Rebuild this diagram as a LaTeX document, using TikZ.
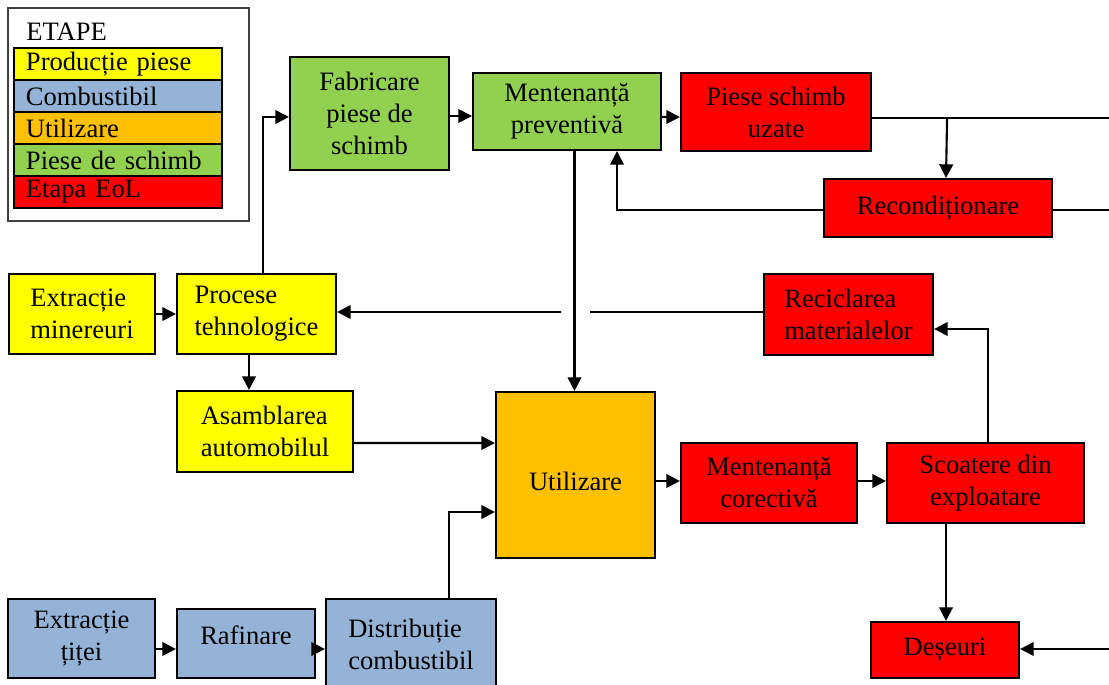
\documentclass[tikz,border=0pt]{standalone}
\usepackage{fontspec}
\setmainfont{Liberation Serif}
\usepackage{xcolor}
\usetikzlibrary{arrows.meta,calc}
\definecolor{galben}{HTML}{FFFF00}
\definecolor{albastru}{HTML}{95B3D7}
\definecolor{portocaliu}{HTML}{FFC000}
\definecolor{verde}{HTML}{92D050}
\definecolor{rosu}{HTML}{FF0000}

\begin{document}
\begin{tikzpicture}[x=0.025cm,y=-0.025cm]
\tikzstyle{every node}+=[inner sep=0pt,font=\fontsize{18.9}{22.8}\selectfont]
\tikzstyle{bloc}=[draw=black,line width=1.5pt,align=center]
\tikzstyle{leg}=[draw=black,line width=1.5pt,minimum height=0.8cm,text width=4.6cm,inner xsep=0.3cm,align=left]
\tikzstyle{arr}=[line width=1.5pt,-{Triangle[length=0.34cm,width=0.34cm]}]
\tikzstyle{lin}=[line width=1.5pt]
\useasboundingbox (0,0) rectangle (1109,684);
\clip (0,0) rectangle (1109,684);
\node[draw=black!75,line width=1.2pt,minimum width=6.025cm,minimum height=5.325cm] (legenda) at (128.5,114.5) {};
\node[anchor=base west] (etape) at (26,40) {ETAPE};
\node[leg,fill=galben] (l1) at (118,64) {Producție piese};
\node[leg,fill=albastru] (l2) at (118,96) {Combustibil};
\node[leg,fill=portocaliu] (l3) at (118,128) {Utilizare};
\node[leg,fill=verde] (l4) at (118,160) {Piese de schimb};
\node[leg,fill=rosu] (l5) at (118,192) {Etapa EoL};
\node[bloc,fill=verde,minimum width=3.975cm,minimum height=2.825cm] (fab) at (369.5,113.5) {Fabricare\\piese de\\schimb};
\node[bloc,fill=verde,minimum width=4.7cm,minimum height=1.925cm] (mprev) at (567,111.5) {Mentenanță\\preventivă};
\node[bloc,fill=rosu,minimum width=4.75cm,minimum height=1.95cm] (uzate) at (776,112) {Piese schimb\\uzate};
\node[bloc,fill=rosu,minimum width=5.7cm,minimum height=1.45cm] (recond) at (938,208) {Recondiționare};
\node[bloc,fill=galben,minimum width=3.65cm,minimum height=2cm,align=left] (extmin) at (82,314) {Extracție\\minereuri};
\node[bloc,fill=galben,minimum width=3.975cm,minimum height=2cm,align=left] (proc) at (256.5,314) {Procese\\tehnologice};
\node[bloc,fill=rosu,minimum width=4.225cm,minimum height=2.025cm,align=left] (recic) at (848.5,314.5) {Reciclarea\\materialelor};
\node[bloc,fill=galben,minimum width=4.4cm,minimum height=2.025cm,align=left] (asam) at (265,431.5) {Asamblarea\\automobilul};
\node[bloc,fill=portocaliu,minimum width=3.975cm,minimum height=4.15cm,text height=0.76cm,text depth=0cm] (util) at (575.5,475) {Utilizare};
\node[bloc,fill=rosu,minimum width=4.4cm,minimum height=2cm] (mcor) at (769,483) {Mentenanță\\corectivă};
\node[bloc,fill=rosu,minimum width=4.925cm,minimum height=2cm] (scoat) at (985.5,483) {Scoatere din\\exploatare};
\node[bloc,fill=rosu,minimum width=3.7cm,minimum height=1.4cm] (deseuri) at (945,650) {Deșeuri};
\node[bloc,fill=albastru,minimum width=3.675cm,minimum height=1.975cm] (exttit) at (81.5,638.5) {Extracție\\țiței};
\node[bloc,fill=albastru,minimum width=3.45cm,minimum height=1.725cm,text depth=0.4cm] (raf) at (246,643.5) {Rafinare};
\node[bloc,fill=albastru,minimum width=4.25cm,minimum height=2.275cm,align=left] (distr) at (411,644.5) {Distribuție\\combustibil};
\coordinate (iesireA) at (1109,118);
\coordinate (iesireB) at (1109,210);
\coordinate (intrare) at (1109,649);
\coordinate (saltA) at (590,312);
\coordinate (saltB) at (561,312);
\draw[arr] (extmin.east) -- (extmin.east -| proc.west);
\draw[arr] ($(proc.south)+(-7.5,0)$) -- ($(asam.north)+(-16,0)$);
\draw[arr] ($(proc.north)+(6.5,0)$) |- ($(fab.west)+(0,3.5)$);
\draw[arr] ($(fab.east)+(0,2.5)$) -- ($(mprev.west)+(0,4.5)$);
\draw[arr] ($(mprev.east)+(0,5.5)$) -- ($(uzate.west)+(0,5)$);
\draw[lin] ($(uzate.east)+(0,6)$) -- (iesireA);
\draw[arr] ($(uzate.east)+(75,6)$) -- ($(recond.north)+(8,0)$);
\draw[lin] ($(recond.east)+(0,2)$) -- (iesireB);
\draw[arr] ($(recond.west)+(0,2)$) -| ($(mprev.south)+(50,0)$);
\draw[arr] ($(mprev.south)+(7.5,0)$) -- ($(util.north)+(-1,0)$);
\draw[lin] ($(recic.west)+(0,-2.5)$) -- (saltA);
\draw[arr] (saltB) -- ($(proc.east)+(0,-2)$);
\draw[arr] ($(asam.east)+(0,11.5)$) -- ($(util.west)+(0,-32)$);
\draw[arr] ($(distr.north)+(38,0)$) |- ($(util.west)+(0,37)$);
\draw[arr] ($(exttit.east)+(0,10.5)$) -- ($(raf.west)+(0,5.5)$);
\draw[arr] ($(raf.east)+(0,5.5)$) -- ($(distr.west)+(0,4.5)$);
\draw[arr] ($(util.east)+(0,6)$) -- ($(mcor.west)+(0,-2)$);
\draw[arr] ($(mcor.east)+(0,-2)$) -- ($(scoat.west)+(0,-2)$);
\draw[arr] ($(scoat.north)+(2.5,0)$) |- ($(recic.east)+(0,14.5)$);
\draw[arr] ($(scoat.south)+(-39.5,0)$) -- ($(deseuri.north)+(1,0)$);
\draw[arr] (intrare) -- ($(deseuri.east)+(0,-1)$);
\end{tikzpicture}
\end{document}
